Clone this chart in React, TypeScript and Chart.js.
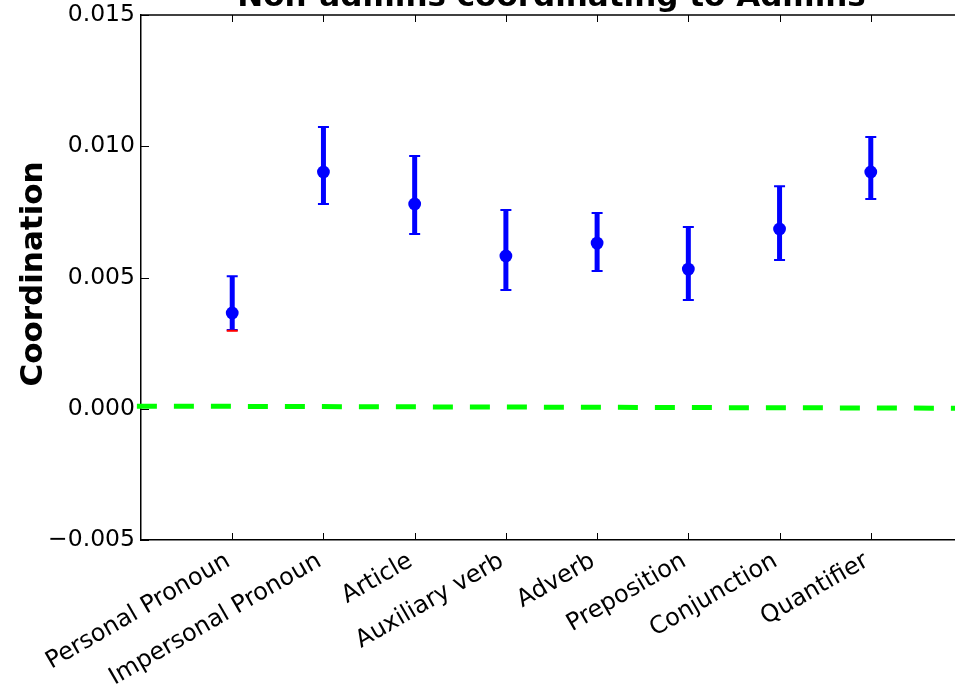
import { useEffect, useRef } from "react";
import { Chart, registerables } from "chart.js";

Chart.register(...registerables);

// Function-word categories along the x axis
const categories = [
  "Personal Pronoun",
  "Impersonal Pronoun",
  "Article",
  "Auxiliary verb",
  "Adverb",
  "Preposition",
  "Conjunction",
  "Quantifier",
];

// Mean coordination and its confidence interval per category
const coordination = [0.00365, 0.00902, 0.0078, 0.00582, 0.00631, 0.00532, 0.00685, 0.00902];
const ciLow = [0.0030, 0.0078, 0.00666, 0.00452, 0.00525, 0.00414, 0.00567, 0.00799];
const ciHigh = [0.00505, 0.01073, 0.00963, 0.00757, 0.00746, 0.00692, 0.00848, 0.01035];

// Lower bound of the secondary (red) interval, only shown where it pokes out
const secondaryLow: (number | null)[] = [0.00297, null, null, null, null, null, null, null];

// Zero reference line end points
const baselineX = [-1.045, 8];
const baselineY = [0.0001, 0.00002];

const yTicks = [-0.005, 0, 0.005, 0.01, 0.015];

const TITLE = "Non-admins coordinating to Admins";
const Y_LABEL = "Coordination";
const FONT = "'DejaVu Sans', 'Liberation Sans', sans-serif";

const fmtTick = (v: number) => {
  const s = Math.abs(v).toFixed(3);
  return v < -1e-12 ? "\u2212" + s : s;
};

const errorBars = {
  id: "errorBars",
  beforeDatasetsDraw(chart: any) {
    const { ctx, scales } = chart;
    const x = scales.x;
    const y = scales.y;
    ctx.save();
    const capHalf = 5.5;
    categories.forEach((_, i) => {
      const px = x.getPixelForValue(i);
      const top = y.getPixelForValue(ciHigh[i]);
      const bot = y.getPixelForValue(ciLow[i]);
      ctx.strokeStyle = "#0000ff";
      ctx.lineWidth = 5;
      ctx.beginPath();
      ctx.moveTo(px, top);
      ctx.lineTo(px, bot);
      ctx.stroke();
      ctx.lineWidth = 2;
      ctx.beginPath();
      ctx.moveTo(px - capHalf, top);
      ctx.lineTo(px + capHalf, top);
      ctx.moveTo(px - capHalf, bot);
      ctx.lineTo(px + capHalf, bot);
      ctx.stroke();
      const s = secondaryLow[i];
      if (s != null) {
        const sp = y.getPixelForValue(s);
        ctx.strokeStyle = "#ff0000";
        ctx.beginPath();
        ctx.moveTo(px - capHalf, sp);
        ctx.lineTo(px + capHalf, sp);
        ctx.stroke();
      }
    });
    ctx.restore();
  },
};

const frame = {
  id: "frame",
  afterDraw(chart: any) {
    const { ctx, chartArea, scales } = chart;
    const { left, right, top, bottom } = chartArea;
    ctx.save();
    ctx.strokeStyle = "#000";
    ctx.lineWidth = 1.5;
    // top spine
    ctx.beginPath();
    ctx.moveTo(left, top);
    ctx.lineTo(right, top);
    ctx.stroke();
    // inward tick marks
    ctx.lineWidth = 1;
    ctx.beginPath();
    categories.forEach((_, i) => {
      const px = Math.round(scales.x.getPixelForValue(i)) + 0.5;
      ctx.moveTo(px, bottom);
      ctx.lineTo(px, bottom - 7);
      ctx.moveTo(px, top);
      ctx.lineTo(px, top + 7);
    });
    yTicks.forEach((v) => {
      const py = Math.round(scales.y.getPixelForValue(v)) + 0.5;
      ctx.moveTo(left, py);
      ctx.lineTo(left + 8, py);
    });
    ctx.stroke();

    // title
    ctx.fillStyle = "#000";
    ctx.font = `bold 31px ${FONT}`;
    ctx.textAlign = "center";
    ctx.textBaseline = "alphabetic";
    ctx.fillText(TITLE, (left + right) / 2, 6);

    // y-axis label
    ctx.translate(42, 274);
    ctx.rotate(-Math.PI / 2);
    ctx.font = `bold 31px ${FONT}`;
    ctx.textAlign = "center";
    ctx.fillText(Y_LABEL, 0, 0);
    ctx.restore();
  },
};

export default function App() {
  const ref = useRef<HTMLCanvasElement | null>(null);

  useEffect(() => {
    if (!ref.current) return;
    const chart = new Chart(ref.current, {
      type: "scatter",
      data: {
        datasets: [
          {
            type: "line",
            data: baselineX.map((x, i) => ({ x, y: baselineY[i] })),
            borderColor: "#00ff00",
            borderWidth: 5,
            borderDash: [20, 17],
            pointRadius: 0,
            fill: false,
            clip: false,
          } as any,
          {
            data: categories.map((_, i) => ({ x: i, y: coordination[i] })),
            backgroundColor: "#0000ff",
            borderColor: "#0000ff",
            borderWidth: 0,
            pointRadius: 6.4,
            pointHoverRadius: 6.4,
          },
        ],
      },
      options: {
        animation: false,
        responsive: false,
        events: [],
        layout: { padding: { top: 15, right: 8, left: 0, bottom: 0 } },
        plugins: { legend: { display: false }, tooltip: { enabled: false }, title: { display: false } },
        scales: {
          x: {
            type: "linear",
            min: -1,
            max: 8,
            grid: { display: false, drawTicks: false },
            border: { color: "#000", width: 1.5 },
            afterFit(s: any) {
              s.height = 149;
              s.paddingLeft = 0;
              s.paddingRight = 0;
            },
            afterBuildTicks(s: any) {
              s.ticks = categories.map((_, i) => ({ value: i }));
            },
            ticks: {
              autoSkip: false,
              minRotation: 30,
              maxRotation: 30,
              padding: 7,
              labelOffset: -4,
              color: "#000",
              font: { family: FONT, size: 24 },
              callback: (v: any) => categories[v] ?? "",
            },
          },
          y: {
            min: -0.005,
            max: 0.015,
            grid: { display: false, drawTicks: false },
            border: { color: "#000", width: 1.5 },
            afterFit(s: any) {
              s.width = 141;
              s.paddingTop = 0;
              s.paddingBottom = 0;
            },
            afterBuildTicks(s: any) {
              s.ticks = yTicks.map((v) => ({ value: v }));
            },
            ticks: {
              padding: 6,
              color: "#000",
              font: { family: FONT, size: 23.5 },
              callback: (v: any) => fmtTick(Number(v)),
            },
          },
        },
      },
      plugins: [errorBars, frame],
    });
    return () => chart.destroy();
  }, []);

  return (
    <div
      style={{
        position: "absolute",
        left: 0,
        top: 0,
        width: 955,
        height: 689,
        overflow: "hidden",
        background: "#fff",
      }}
    >
      <canvas ref={ref} width={970} height={689} style={{ display: "block" }} />
    </div>
  );
}
